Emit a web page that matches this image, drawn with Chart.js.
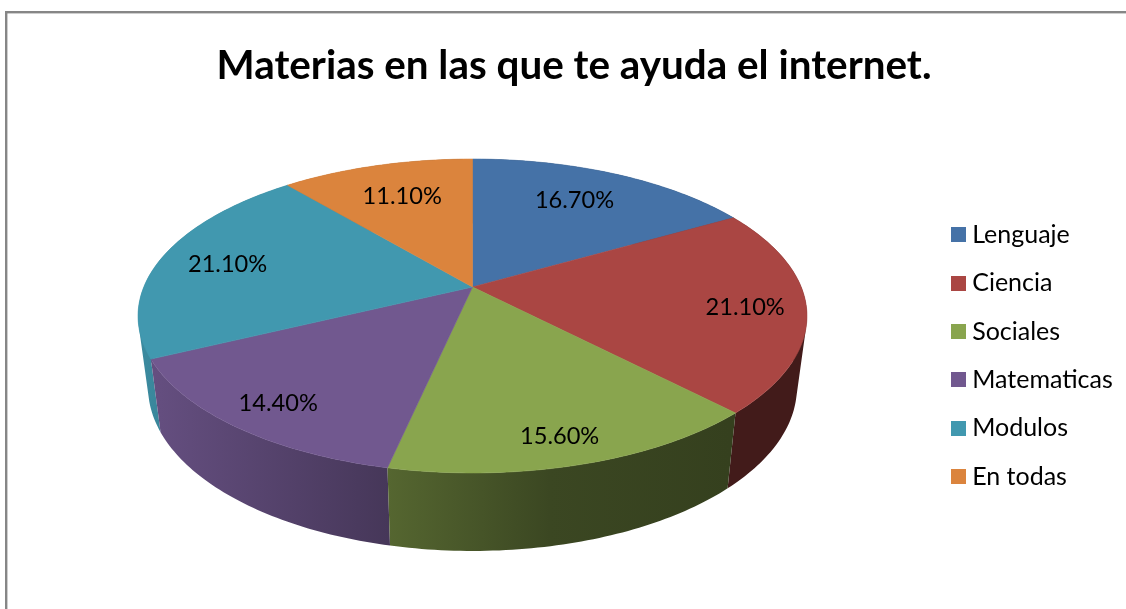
<!DOCTYPE html>
<html><head><meta charset="utf-8">
<style>html,body{margin:0;padding:0;background:#fff;overflow:hidden}#w{width:1126px;height:609px;position:relative}</style>
<script src="https://cdn.jsdelivr.net/npm/chart.js@4"></script>
</head><body><div id="w"><canvas id="c" width="1126" height="609"></canvas></div>
<script>
const chartTitle = 'Materias en las que te ayuda el internet.';
const categories = ['Lenguaje','Ciencia','Sociales','Matematicas','Modulos','En todas'];
const shares = [16.7,21.1,15.6,14.4,21.1,11.1];
const colors = ['#4572A7','#AA4643','#89A54E','#71588F','#4198AF','#DB843D'];
const labelReach = [0.745,0.82,0.855,0.84,0.785,0.73];
const labelTurn = [-2.2,0,0.6,0,0,0.7];
const FONT = 'Lato, Carlito, sans-serif';

// perspective view of the pie disc
const view = {apexX:472.5, apexY:287, a:328.7, b:151.6, k:-0.1847,
  wallScaleX:0.97, wallScaleY:1.043, wallDrop:70};
const shadeStops = [[130,.92],[388,.62],[550,.43],[730,.39],[820,.39]];

function project(u,v){const d=1+view.k*v;return {x:view.apexX+view.a*u/d,y:view.apexY+view.b*v/d};}
function lower(p){return {x:view.apexX+(p.x-view.apexX)*view.wallScaleX,
  y:view.apexY+(p.y-view.apexY)*view.wallScaleY+view.wallDrop};}
function rgb(h){return [1,3,5].map(i=>parseInt(h.substr(i,2),16));}
function area(q){let s=0;q.forEach((p,i)=>{const n=q[(i+1)%q.length];s+=p.x*n.y-n.x*p.y;});return s;}

const pie3d = {
  id:'pie3d',
  beforeDraw(chart){
    const c=chart.ctx;c.save();c.fillStyle='#868686';
    c.fillRect(5,11,chart.width-5,2.4);c.fillRect(5,11,2.4,chart.height-11);c.restore();
  },
  beforeDatasetsDraw(chart){
    const c=chart.ctx, arcs=chart.getDatasetMeta(0).data;
    const rim=(s,e)=>{const n=Math.max(8,Math.ceil((e-s)*60)),o=[];
      for(let i=0;i<=n;i++){const t=s+(e-s)*i/n;o.push(project(Math.cos(t),Math.sin(t)));}return o;};
    // side walls, far slices first
    const order=arcs.map((a,i)=>i).sort((p,q)=>
      Math.sin((arcs[p].startAngle+arcs[p].endAngle)/2)-Math.sin((arcs[q].startAngle+arcs[q].endAngle)/2));
    c.save();
    order.forEach(i=>{
      const a=arcs[i],top=rim(a.startAngle,a.endAngle),low=top.map(lower),base=rgb(colors[i]);
      const g=c.createLinearGradient(shadeStops[0][0],0,shadeStops[shadeStops.length-1][0],0);
      const span=shadeStops[shadeStops.length-1][0]-shadeStops[0][0];
      shadeStops.forEach(s=>g.addColorStop((s[0]-shadeStops[0][0])/span,
        `rgb(${base.map(v=>Math.round(v*s[1])).join(',')})`));
      c.fillStyle=g;
      // one path of same-wound quads, so the outline follows the tangent between rim and base without seams
      c.beginPath();
      for(let j=0;j<top.length-1;j++){
        const q=[top[j],top[j+1],low[j+1],low[j]];
        if(area(q)<0)q.reverse();
        q.forEach((p,k)=>k?c.lineTo(p.x,p.y):c.moveTo(p.x,p.y));
        c.closePath();
      }
      c.fill('nonzero');
    });
    // top face
    arcs.forEach((a,i)=>{
      const top=rim(a.startAngle,a.endAngle);
      c.beginPath();c.moveTo(view.apexX,view.apexY);
      top.forEach(p=>c.lineTo(p.x,p.y));c.closePath();
      c.fillStyle=colors[i];c.strokeStyle=colors[i];c.lineWidth=.6;c.fill();c.stroke();
    });
    // value labels
    c.fillStyle='#000';c.font='23.6px '+FONT;c.textAlign='center';c.textBaseline='middle';
    arcs.forEach((a,i)=>{
      const m=(a.startAngle+a.endAngle)/2+labelTurn[i]*Math.PI/180,r=labelReach[i];
      const p=project(r*Math.cos(m),r*Math.sin(m));
      c.fillText(shares[i].toFixed(2)+'%',p.x,p.y+2);
    });
    c.restore();
    return false;
  }
};

function swatch(col){const s=document.createElement('canvas');s.width=15;s.height=15;
  const x=s.getContext('2d');x.fillStyle=col;x.fillRect(0,0,15,15);return s;}

new Chart(document.getElementById('c'),{
  type:'pie',
  data:{labels:categories,datasets:[{data:shares,backgroundColor:colors,borderWidth:0}]},
  plugins:[pie3d],
  options:{
    responsive:false,animation:false,
    layout:{padding:{left:25.2,right:3.2,top:0,bottom:0}},
    plugins:{
      tooltip:{enabled:false},
      title:{display:true,text:chartTitle,color:'#000',
        font:{family:FONT,size:40.4,weight:'bold'},padding:{top:42,bottom:12}},
      legend:{position:'right',fullSize:false,
        labels:{color:'#000',font:{family:FONT,size:25},padding:23.3,usePointStyle:true,pointStyleWidth:2,
          generateLabels(){return categories.map((t,i)=>({text:t,pointStyle:swatch(colors[i]),fillStyle:colors[i],
            strokeStyle:colors[i],lineWidth:0,hidden:false,index:i,fontColor:'#000'}));}}}
    }
  }
});
</script></body></html>
